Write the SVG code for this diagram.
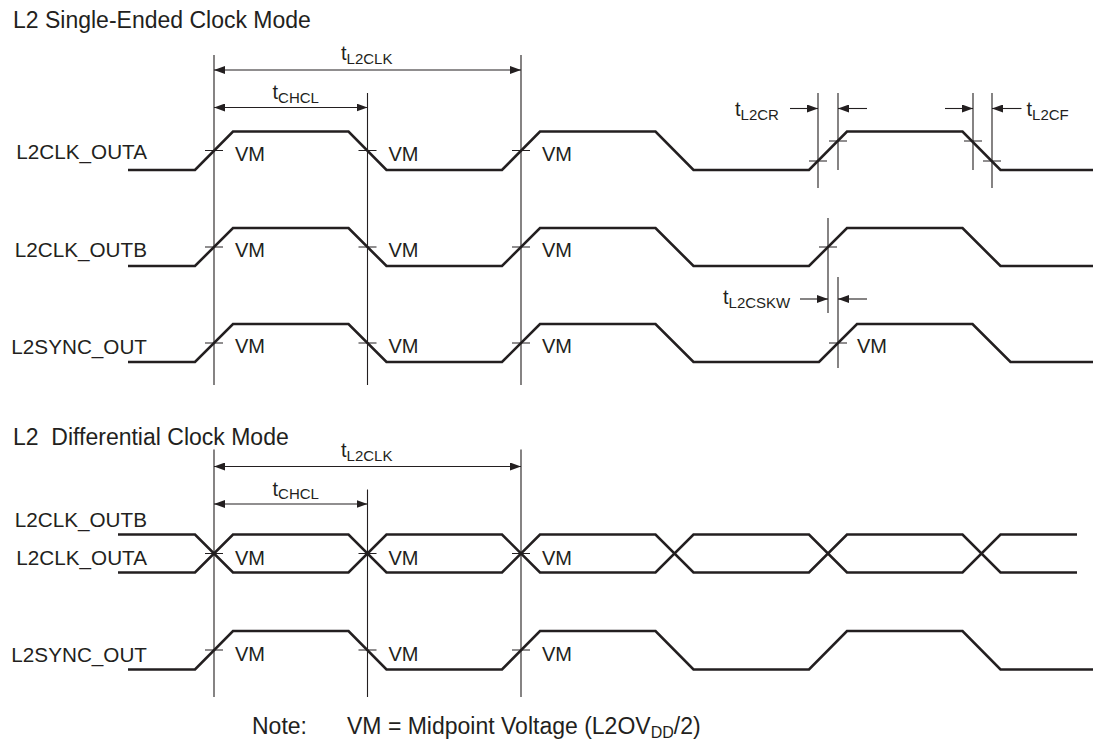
<svg xmlns="http://www.w3.org/2000/svg" width="1094" height="742" viewBox="0 0 1094 742">
<defs>
<style>
text{font-family:"Liberation Sans",Arial,Helvetica,sans-serif;fill:#231f20}
.title{font-size:23px}
.lbl{font-size:20.7px;text-anchor:end}
.vm{font-size:20px}
.t{font-size:20px}
.sub{font-size:15px}
.note{font-size:23px}
.wave{fill:none;stroke:#231f20;stroke-width:2.6;stroke-linejoin:miter}
.thin{fill:none;stroke:#231f20;stroke-width:1.1}
.arr{fill:none;stroke:#231f20;stroke-width:1.1;marker-end:url(#ah)}
.arr2{fill:none;stroke:#231f20;stroke-width:1.1;marker-end:url(#ah);marker-start:url(#ah)}
</style>
<marker id="ah" viewBox="0 0 11 8" refX="11" refY="4" markerWidth="11" markerHeight="8" markerUnits="userSpaceOnUse" orient="auto-start-reverse">
<path d="M0,0 L11,4 L0,8 z" fill="#231f20"/>
</marker>
</defs>
<rect width="1094" height="742" fill="#ffffff"/>

<g id="title-single-ended">
<text class="title" x="13" y="28">L2 Single-Ended Clock Mode</text>
</g>

<g id="se-l2clk-outa">
<text class="lbl" x="147" y="159">L2CLK_OUTA</text>
<path class="wave" d="M128,170 H195 L233,131.5 H348.5 L386.5,170 H502 L540,131.5 H655.5 L693.5,170 H809 L847,131.5 H962.5 L1000.5,170 H1093"/>
<path class="thin" d="M205,150.5 H223 M358.5,150.5 H376.5 M512,150.5 H530 M809,161 H827 M829,141 H847 M964,141 H982 M983,161 H1001"/>
<text class="vm" x="235" y="161">VM</text>
<text class="vm" x="388.5" y="161">VM</text>
<text class="vm" x="542" y="161">VM</text>
</g>

<g id="se-l2clk-outb">
<text class="lbl" x="147" y="256.5">L2CLK_OUTB</text>
<path class="wave" d="M128,266 H195 L233,228 H348.5 L386.5,266 H502 L540,228 H655.5 L693.5,266 H809 L847,228 H962.5 L1000.5,266 H1093"/>
<path class="thin" d="M205,247 H223 M358.5,247 H376.5 M512,247 H530 M819,247 H837"/>
<text class="vm" x="235" y="257">VM</text>
<text class="vm" x="388.5" y="257">VM</text>
<text class="vm" x="542" y="257">VM</text>
</g>

<g id="se-l2sync-out">
<text class="lbl" x="147" y="354">L2SYNC_OUT</text>
<path class="wave" d="M128,362 H195 L233,324 H348.5 L386.5,362 H502 L540,324 H655.5 L693.5,362 H819 L857,324 H972.5 L1010.5,362 H1093"/>
<path class="thin" d="M205,343 H223 M358.5,343 H376.5 M512,343 H530 M829,343 H847"/>
<text class="vm" x="235" y="353">VM</text>
<text class="vm" x="388.5" y="353">VM</text>
<text class="vm" x="542" y="353">VM</text>
<text class="vm" x="857" y="353">VM</text>
</g>

<g id="title-differential">
<text class="title" x="13" y="445" xml:space="preserve">L2  Differential Clock Mode</text>
</g>

<g id="diff-l2clk-outb">
<text class="lbl" x="147" y="526.5">L2CLK_OUTB</text>
<path class="wave" d="M118,534.5 H195 L233,572.5 H348.5 L386.5,534.5 H502 L540,572.5 H655.5 L693.5,534.5 H809 L847,572.5 H962.5 L1000.5,534.5 H1077"/>
</g>

<g id="diff-l2clk-outa">
<text class="lbl" x="147" y="565">L2CLK_OUTA</text>
<path class="wave" d="M118,572.5 H195 L233,534.5 H348.5 L386.5,572.5 H502 L540,534.5 H655.5 L693.5,572.5 H809 L847,534.5 H962.5 L1000.5,572.5 H1077"/>
<path class="thin" d="M205,553.5 H223 M358.5,553.5 H376.5 M512,553.5 H530"/>
<text class="vm" x="235" y="564.5">VM</text>
<text class="vm" x="388.5" y="564.5">VM</text>
<text class="vm" x="542" y="564.5">VM</text>
</g>

<g id="diff-l2sync-out">
<text class="lbl" x="147" y="661.5">L2SYNC_OUT</text>
<path class="wave" d="M128,669.5 H195 L233,631 H348.5 L386.5,669.5 H502 L540,631 H655.5 L693.5,669.5 H809 L847,631 H962.5 L1000.5,669.5 H1093"/>
<path class="thin" d="M205,650 H223 M358.5,650 H376.5 M512,650 H530"/>
<text class="vm" x="235" y="660.5">VM</text>
<text class="vm" x="388.5" y="660.5">VM</text>
<text class="vm" x="542" y="660.5">VM</text>
</g>

<g id="connectors">
<!-- single-ended reference lines -->
<path class="thin" d="M214,55 V385 M367.5,93 V385 M521,55 V385"/>
<path class="arr2" d="M214,70 H521"/>
<path class="arr2" d="M214,107.5 H367.5"/>
<path class="thin" d="M818,93 V188 M838,93 V170 M973,93 V170 M992,93 V188"/>
<path class="arr" d="M790,108.5 H818"/>
<path class="arr" d="M867,108.5 H838"/>
<path class="arr" d="M945,108.5 H973"/>
<path class="arr" d="M1021.5,108.5 H992"/>
<path class="thin" d="M828,218 V313 M838,277 V368"/>
<path class="arr" d="M800,299 H828"/>
<path class="arr" d="M867,299 H838"/>
<!-- differential reference lines -->
<path class="thin" d="M214,449.5 V697 M367.5,489.5 V697 M521,449.5 V697"/>
<path class="arr2" d="M214,466.5 H521"/>
<path class="arr2" d="M214,504 H367.5"/>
</g>

<g id="timing-labels">
<text class="t" x="341" y="60">t<tspan class="sub" dy="4">L2CLK</tspan></text>
<text class="t" x="272.5" y="99">t<tspan class="sub" dy="3.5">CHCL</tspan></text>
<text class="t" x="735" y="115.5">t<tspan class="sub" dy="4">L2CR</tspan></text>
<text class="t" x="1026.5" y="115.5">t<tspan class="sub" dy="4">L2CF</tspan></text>
<text class="t" x="723" y="304">t<tspan class="sub" dy="4">L2CSKW</tspan></text>
<text class="t" x="341" y="457">t<tspan class="sub" dy="4">L2CLK</tspan></text>
<text class="t" x="272.5" y="495.5">t<tspan class="sub" dy="3.5">CHCL</tspan></text>
</g>

<g id="note">
<text class="note" x="252" y="734">Note:</text>
<text class="note" x="347" y="734">VM = Midpoint Voltage (L2OV<tspan font-size="16" dy="4">DD</tspan><tspan dy="-4">/2)</tspan></text>
</g>
</svg>
